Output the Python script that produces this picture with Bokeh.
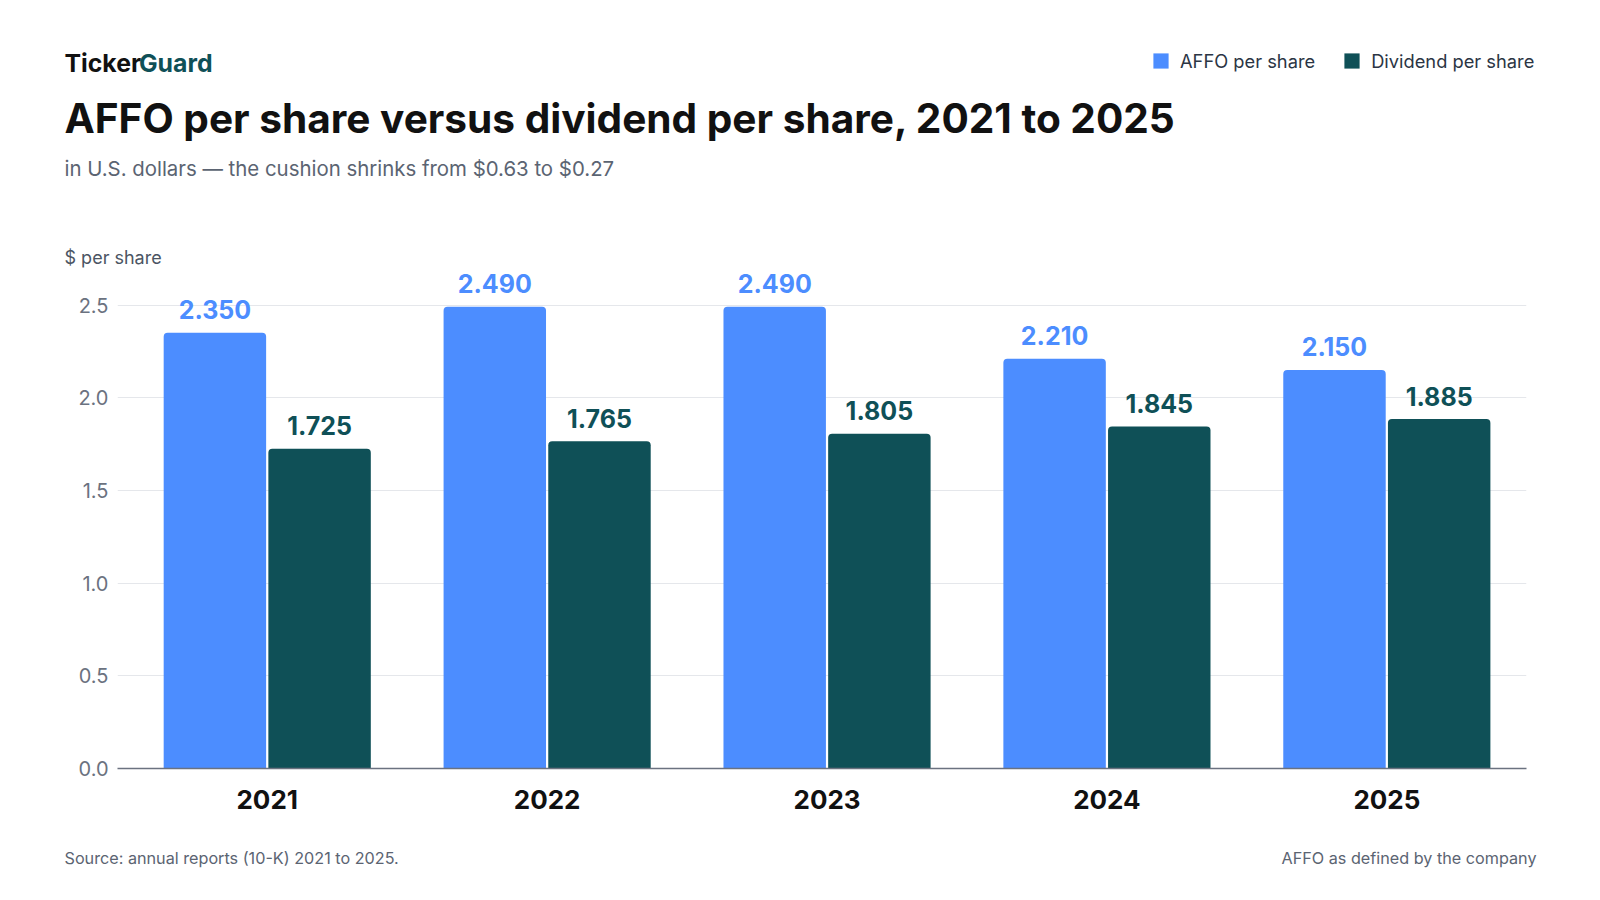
from bokeh.plotting import figure
from bokeh.layouts import column
from bokeh.models import (ColumnDataSource, Range1d, FixedTicker, Label, LabelSet,
                          Legend, LegendItem)
from bokeh.core.properties import value
from bokeh.transform import dodge
from bokeh.embed import file_html
from bokeh.resources import INLINE

# ---- data ----
years = ["2021", "2022", "2023", "2024", "2025"]
affo = [2.35, 2.49, 2.49, 2.21, 2.15]
dividend = [1.725, 1.765, 1.805, 1.845, 1.885]
y_ticks = [0.0, 0.5, 1.0, 1.5, 2.0, 2.5]
series_names = ["AFFO per share", "Dividend per share"]

BLUE = "#4c8dff"
TEAL = "#0f5057"
FONT = "Inter"
W = 1600

src = ColumnDataSource(dict(
    x=list(range(len(years))),
    affo=affo,
    dividend=dividend,
    affo_txt=[f"{v:.3f}" for v in affo],
    div_txt=[f"{v:.3f}" for v in dividend],
))


def no_align(fig):
    if "frame_align" in fig.properties():
        fig.frame_align = False


# ---------------- header (page y 0..268) ----------------
HH = 268
head = figure(width=W, height=HH, output_backend="svg", toolbar_location=None,
              x_range=Range1d(0, W), y_range=Range1d(0, HH),
              min_border=0, x_axis_location=None, y_axis_location=None)
head.outline_line_color = None
head.grid.grid_line_color = None
no_align(head)


def hlab(text, px, py, size, color, style="normal"):
    head.add_layout(Label(x=px, y=HH - py, x_units="screen", y_units="screen",
                          text=text, text_font=FONT, text_font_size=size,
                          text_font_style=style, text_color=color,
                          text_align="left", text_baseline="middle"))


hlab("Ticker", 64, 62, "24.8px", "#111111", "bold")
hlab("Guard", 138.5, 62, "24.8px", TEAL, "bold")
hlab("AFFO per share versus dividend per share, 2021 to 2025", 64, 118, "40.6px", "#111111", "bold")
hlab("in U.S. dollars \u2014 the cushion shrinks from $0.63 to $0.27", 64, 168, "20.4px", "#5b6472")
hlab("$ per share", 64, 256.5, "18px", "#4b5563")

# hidden copies of the series, only used as legend swatches in the header
lr1 = head.vbar(x="x", top="affo", width=1, source=src, fill_color=BLUE,
                line_color=None, visible=False)
lr2 = head.vbar(x="x", top="dividend", width=1, source=src, fill_color=TEAL,
                line_color=None, visible=False)
legend = Legend(items=[LegendItem(label=series_names[0], renderers=[lr1]),
                       LegendItem(label=series_names[1], renderers=[lr2])],
                location=(1151, HH - 61.5 - 10), orientation="horizontal",
                glyph_width=19, glyph_height=19, label_standoff=10, spacing=27,
                padding=0, margin=0, border_line_color=None,
                background_fill_alpha=0, label_text_font=FONT,
                label_text_font_size="18.3px", label_text_color="#2b3544",
                label_height=19, inactive_fill_alpha=0)
head.add_layout(legend, "center")

# ---------------- main chart (page y 268..825, frame 268..768) ----------------
MH = 557
p = figure(width=W, height=MH, output_backend="svg", toolbar_location=None,
           x_range=Range1d(-0.535, 4.499), y_range=Range1d(0, 500 / 185.4),
           min_border_left=117, min_border_right=74, min_border_top=0,
           min_border_bottom=57)
p.outline_line_color = None
no_align(p)

BW = 0.366
OFF = 0.187
p.vbar(x=dodge("x", -OFF), top="affo", width=BW, source=src,
       fill_color=BLUE, line_color=None, border_radius=(4, 4, 0, 0))
p.vbar(x=dodge("x", OFF), top="dividend", width=BW, source=src,
       fill_color=TEAL, line_color=None, border_radius=(4, 4, 0, 0))

for col, txt, color, off in (("affo", "affo_txt", BLUE, -OFF), ("dividend", "div_txt", TEAL, OFF)):
    p.add_layout(LabelSet(x=dodge("x", off), y=col, text=txt, source=src,
                          y_offset=13.5, text_align="center", text_baseline="alphabetic",
                          text_font=value(FONT), text_font_size="25px",
                          text_font_style="bold", text_color=color))

p.xaxis.ticker = FixedTicker(ticks=list(range(len(years))))
p.xaxis.major_label_overrides = {i: y for i, y in enumerate(years)}
p.xaxis.major_label_text_font = FONT
p.xaxis.major_label_text_font_size = "26px"
p.xaxis.major_label_text_font_style = "bold"
p.xaxis.major_label_text_color = "#111111"
p.xaxis.major_tick_out = 0
p.xaxis.major_tick_in = 0
p.xaxis.major_label_standoff = 21
p.xaxis.major_tick_line_color = None
p.xaxis.minor_tick_line_color = None
p.xaxis.axis_line_color = "#6b7280"
p.xaxis.axis_line_width = 1.5

p.yaxis.ticker = FixedTicker(ticks=y_ticks)
p.yaxis.major_label_overrides = {t: f"{t:.1f}" for t in y_ticks}
p.yaxis.major_label_text_font = FONT
p.yaxis.major_label_text_font_size = "20px"
p.yaxis.major_label_text_color = "#6b7280"
p.yaxis.major_tick_out = 0
p.yaxis.major_tick_in = 0
p.yaxis.major_label_standoff = 9
p.yaxis.major_tick_line_color = None
p.yaxis.minor_tick_line_color = None
p.yaxis.axis_line_color = None

p.xgrid.grid_line_color = None
p.ygrid.grid_line_color = "#e5e7eb"
p.ygrid.grid_line_width = 1

# ---------------- footer (page y 825..900) ----------------
FH = 75
foot = figure(width=W, height=FH, output_backend="svg", toolbar_location=None,
              x_range=Range1d(0, W), y_range=Range1d(0, FH),
              min_border=0, x_axis_location=None, y_axis_location=None)
foot.outline_line_color = None
foot.grid.grid_line_color = None
no_align(foot)


def flab(text, px, py, align="left"):
    foot.add_layout(Label(x=px, y=900 - py, x_units="screen", y_units="screen",
                          text=text, text_font=FONT, text_font_size="16.2px",
                          text_color="#5b6472", text_align=align,
                          text_baseline="middle"))


flab("Source: annual reports (10-K) 2021 to 2025.", 64, 857)
flab("AFFO as defined by the company", 1536, 857, align="right")

layout = column(head, p, foot, spacing=0)
open("out.html", "w").write(file_html(layout, INLINE))
